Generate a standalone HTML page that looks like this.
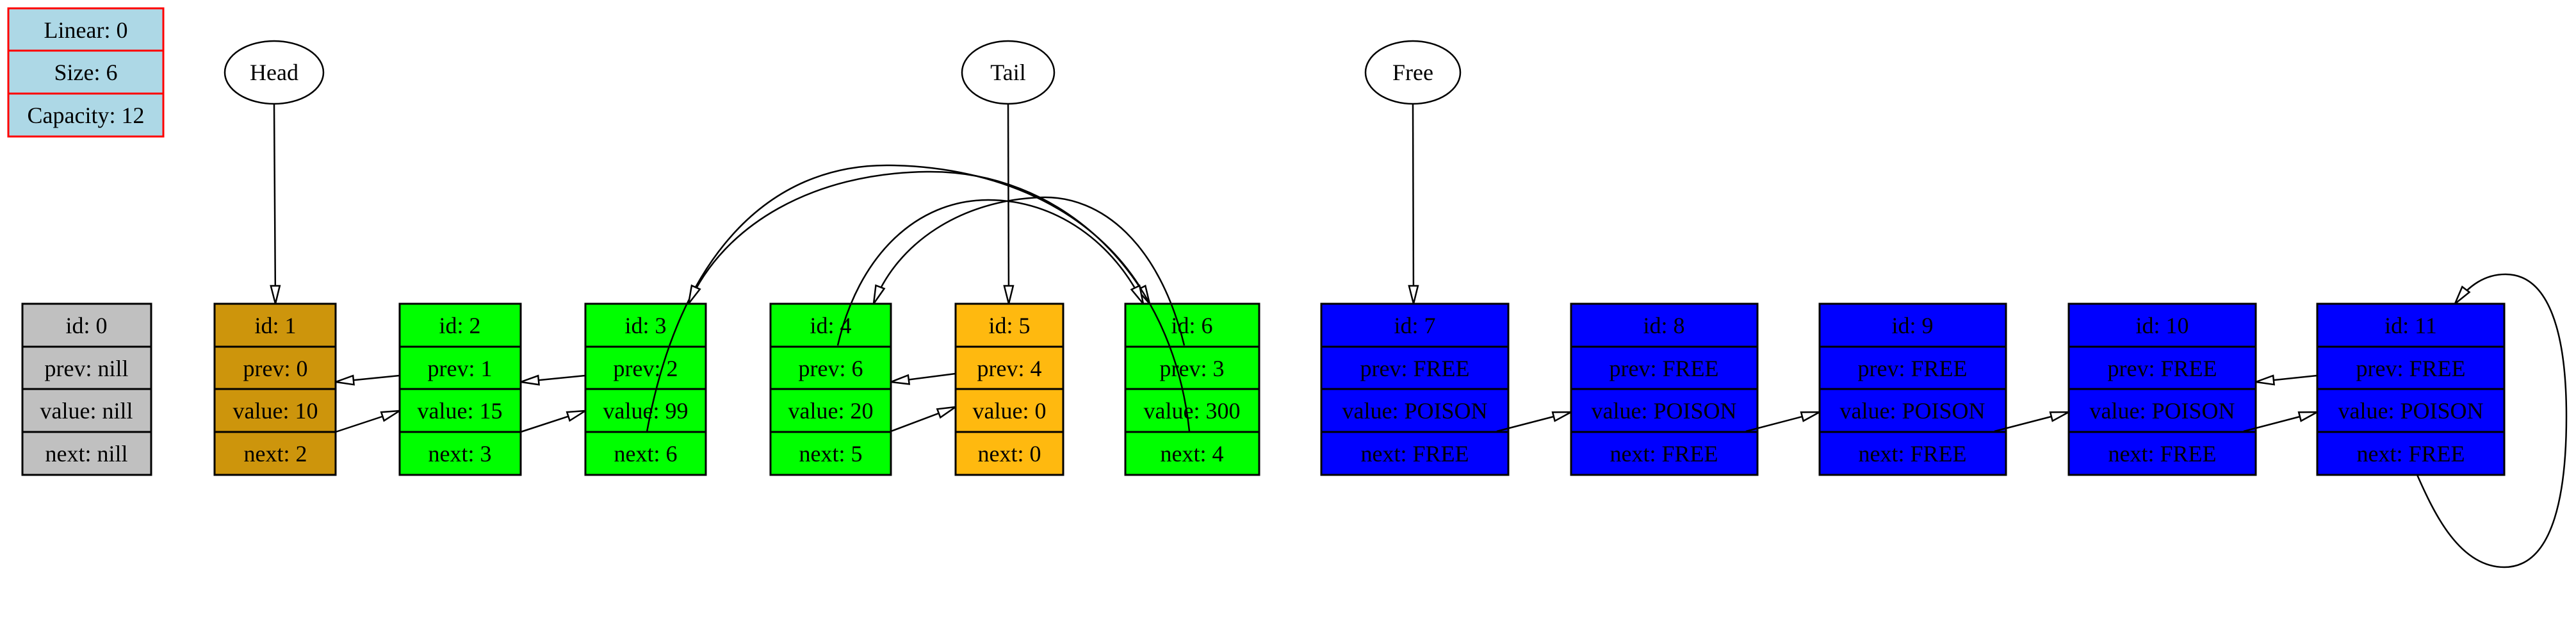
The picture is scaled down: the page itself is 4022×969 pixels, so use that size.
<!DOCTYPE html>
<html><head><meta charset="utf-8"><style>
html,body{margin:0;padding:0;background:#fff}
svg{display:block}
text{font-family:"Liberation Serif",serif;font-size:36px;text-anchor:middle;fill:#000}
</style></head><body>
<svg width="4022" height="969" viewBox="0 0 4022 969" xmlns="http://www.w3.org/2000/svg">
<defs>
<marker id="a" markerWidth="34" markerHeight="24" refX="30" refY="10" orient="auto" markerUnits="userSpaceOnUse" viewBox="0 0 34 20">
<path d="M2,3 L30,10 L2,17 Z" fill="#fff" stroke="#000" stroke-width="2.5"/>
</marker>
</defs>
<!-- legend -->
<g stroke="#ff0000" stroke-width="3" fill="#add8e6">
<rect x="13" y="13" width="242" height="200"/>
<line x1="13" y1="79" x2="255" y2="79"/><line x1="13" y1="146" x2="255" y2="146"/>
</g>
<text x="134" y="59">Linear: 0</text>
<text x="134" y="125">Size: 6</text>
<text x="134" y="192">Capacity: 12</text>

<!-- ellipses -->
<g fill="#fff" stroke="#000" stroke-width="2.5">
<ellipse cx="428" cy="113" rx="77" ry="49"/>
<ellipse cx="1574" cy="113" rx="72" ry="49"/>
<ellipse cx="2206" cy="113" rx="74" ry="49"/>
</g>
<text x="428" y="125">Head</text>
<text x="1574" y="125">Tail</text>
<text x="2206" y="125">Free</text>

<g id="nodes" stroke="#000" stroke-width="3">
<rect x="35" y="474" width="201" height="267" fill="#c0c0c0"/>
<rect x="335" y="474" width="189" height="267" fill="#cd950c"/>
<rect x="624" y="474" width="189" height="267" fill="#00ff00"/>
<rect x="914" y="474" width="188" height="267" fill="#00ff00"/>
<rect x="1203" y="474" width="188" height="267" fill="#00ff00"/>
<rect x="1492" y="474" width="168" height="267" fill="#ffb90f"/>
<rect x="1757" y="474" width="209" height="267" fill="#00ff00"/>
<rect x="2063" y="474" width="292" height="267" fill="#0000ff"/>
<rect x="2453" y="474" width="291" height="267" fill="#0000ff"/>
<rect x="2841" y="474" width="291" height="267" fill="#0000ff"/>
<rect x="3230" y="474" width="292" height="267" fill="#0000ff"/>
<rect x="3618" y="474" width="292" height="267" fill="#0000ff"/>
<path d="M35,541H236M35,607H236M35,674H236
M335,541H524M335,607H524M335,674H524
M624,541H813M624,607H813M624,674H813
M914,541H1102M914,607H1102M914,674H1102
M1203,541H1391M1203,607H1391M1203,674H1391
M1492,541H1660M1492,607H1660M1492,674H1660
M1757,541H1966M1757,607H1966M1757,674H1966
M2063,541H2355M2063,607H2355M2063,674H2355
M2453,541H2744M2453,607H2744M2453,674H2744
M2841,541H3132M2841,607H3132M2841,674H3132
M3230,541H3522M3230,607H3522M3230,674H3522
M3618,541H3910M3618,607H3910M3618,674H3910" fill="none"/>
</g>

<g>
<text x="135" y="520">id: 0</text><text x="135" y="587">prev: nill</text><text x="135" y="653">value: nill</text><text x="135" y="720">next: nill</text>
<text x="430" y="520">id: 1</text><text x="430" y="587">prev: 0</text><text x="430" y="653">value: 10</text><text x="430" y="720">next: 2</text>
<text x="718" y="520">id: 2</text><text x="718" y="587">prev: 1</text><text x="718" y="653">value: 15</text><text x="718" y="720">next: 3</text>
<text x="1008" y="520">id: 3</text><text x="1008" y="587">prev: 2</text><text x="1008" y="653">value: 99</text><text x="1008" y="720">next: 6</text>
<text x="1297" y="520">id: 4</text><text x="1297" y="587">prev: 6</text><text x="1297" y="653">value: 20</text><text x="1297" y="720">next: 5</text>
<text x="1576" y="520">id: 5</text><text x="1576" y="587">prev: 4</text><text x="1576" y="653">value: 0</text><text x="1576" y="720">next: 0</text>
<text x="1861" y="520">id: 6</text><text x="1861" y="587">prev: 3</text><text x="1861" y="653">value: 300</text><text x="1861" y="720">next: 4</text>
<text x="2209" y="520">id: 7</text><text x="2209" y="587">prev: FREE</text><text x="2209" y="653">value: POISON</text><text x="2209" y="720">next: FREE</text>
<text x="2598" y="520">id: 8</text><text x="2598" y="587">prev: FREE</text><text x="2598" y="653">value: POISON</text><text x="2598" y="720">next: FREE</text>
<text x="2986" y="520">id: 9</text><text x="2986" y="587">prev: FREE</text><text x="2986" y="653">value: POISON</text><text x="2986" y="720">next: FREE</text>
<text x="3376" y="520">id: 10</text><text x="3376" y="587">prev: FREE</text><text x="3376" y="653">value: POISON</text><text x="3376" y="720">next: FREE</text>
<text x="3764" y="520">id: 11</text><text x="3764" y="587">prev: FREE</text><text x="3764" y="653">value: POISON</text><text x="3764" y="720">next: FREE</text>
</g>

<g fill="none" stroke="#000" stroke-width="2.5" marker-end="url(#a)">
<line x1="428" y1="162" x2="430" y2="474"/>
<line x1="1574" y1="162" x2="1575" y2="474"/>
<line x1="2206" y1="162" x2="2207" y2="474"/>
<path d="M624,586 L524,596"/>
<path d="M524,674 L624,641"/>
<path d="M914,586 L813,596"/>
<path d="M813,674 L914,641"/>
<path d="M1492,583 L1391,596"/>
<path d="M1391,673 L1492,635"/>
<path d="M2337,673 L2453,643"/>
<path d="M2726,673 L2841,643"/>
<path d="M3114,673 L3230,643"/>
<path d="M3503,673 L3618,643"/>
<path d="M3618,586 L3522,596"/>
<path d="M1010,674 C1060,400 1200,255 1390,258 C1560,260 1720,330 1795,474"/>
<path d="M1857,673 C1830,420 1650,265 1447,268 C1270,270 1130,350 1075,474"/>
<path d="M1308,539 C1340,400 1430,312 1543,312 C1650,312 1740,380 1785,474"/>
<path d="M1849,539 C1810,380 1720,305 1626,308 C1500,312 1400,380 1364,474"/>
<path d="M3774,741 C3800,800 3840,885 3910,885 C3990,885 4007,760 4007,650 C4007,520 3980,428 3912,428 C3880,428 3855,445 3833,474"/>
</g>
</svg>
</body></html>
